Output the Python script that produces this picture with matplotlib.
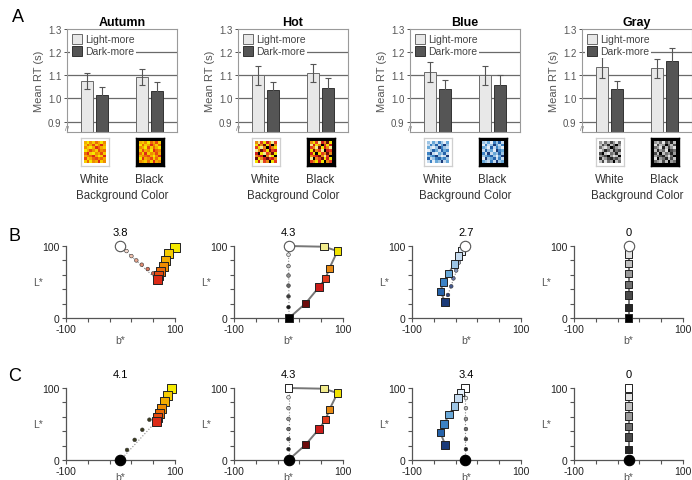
import numpy as np
import matplotlib.pyplot as plt
from matplotlib.patches import Patch
from matplotlib.colors import ListedColormap

plt.rcParams['font.family'] = ['Liberation Sans', 'DejaVu Sans']

W, H = 692, 481

# ---------------------------------------------------------------------------
# Panel A data: mean RT (s) and error bars
# ---------------------------------------------------------------------------
PALETTES = ['Autumn', 'Hot', 'Blue', 'Gray']
BACKGROUNDS = ['White', 'Black']
LIGHT_MORE = [[1.075, 1.092], [1.100, 1.110], [1.115, 1.100], [1.135, 1.130]]
LIGHT_ERR = [[0.035, 0.036], [0.040, 0.038], [0.042, 0.040], [0.045, 0.040]]
DARK_MORE = [[1.015, 1.032], [1.035, 1.045], [1.042, 1.060], [1.040, 1.160]]
DARK_ERR = [[0.035, 0.040], [0.036, 0.042], [0.038, 0.040], [0.036, 0.056]]

# colour palettes (square colours in B/C)
AUTUMN_COLORS = ['#f4ea00', '#f6cc00', '#f4ac00', '#f08c00', '#ec6a06', '#e64a10', '#dc2a16']
HOT_COLORS = ['#f2ec8c', '#f0e200', '#e88a12', '#e23c1e', '#cc1c1a', '#6c0c0c', '#000000']
BLUE_COLORS = ['#e4eef8', '#c6dbef', '#9cc4e4', '#68a8d8', '#3c82c4', '#2462aa', '#1a3a78']
GRAY_COLORS = ['#e2e2e2', '#c0c0c0', '#9a9a9a', '#707070', '#4a4a4a', '#262626', '#000000']

# thumbnail pattern (palette level per cell)
THUMB = [[2, 0, 3, 1, 4, 2, 0, 3],
         [1, 4, 2, 5, 1, 3, 6, 2],
         [3, 1, 0, 2, 6, 4, 2, 1],
         [0, 2, 5, 3, 1, 5, 3, 4],
         [4, 6, 1, 0, 3, 2, 5, 1],
         [2, 3, 4, 6, 2, 0, 1, 6],
         [5, 1, 2, 4, 5, 3, 4, 2],
         [1, 4, 0, 3, 2, 6, 1, 3]]

# ---------------------------------------------------------------------------
# Panel B (white background) and C (black background): b*, L* positions
# ---------------------------------------------------------------------------
B_TITLES = ['3.8', '4.3', '2.7', '0']
C_TITLES = ['4.1', '4.3', '3.4', '0']

# B row
B_AUT_SQ_B = [100, 88, 83, 79, 73, 70, 67]
B_AUT_SQ_L = [98, 89, 80, 72, 65, 59, 53]
B_AUT_DOT_B = [11, 20, 29, 39, 50, 60]
B_AUT_DOT_L = [93, 86, 80, 74, 68, 62]
B_AUT_DOT_C = ['#f6dcd0', '#f0c0ac', '#e8a48c', '#e08c72', '#d8725a', '#d06048']

B_HOT_SQ_B = [65, 90, 75, 68, 56, 31, 1]
B_HOT_SQ_L = [99, 93, 69, 55, 43, 20, 0]
B_HOT_DOT_B = [0, 0, 0, 0, 0, 0]
B_HOT_DOT_L = [88, 72, 59, 45, 30, 15]
B_HOT_DOT_C = ['#e0e0e0', '#b4b4b4', '#8c8c8c', '#646464', '#3c3c3c', '#1a1a1a']

B_BLU_SQ_B = [-9, -15, -22, -33, -42, -48, -39]
B_BLU_SQ_L = [93, 86, 75, 62, 50, 37, 22]
B_BLU_DOT_B = [-14, -19, -24, -28, -34]
B_BLU_DOT_L = [77, 66, 55, 44, 32]
B_BLU_DOT_C = ['#a8b4cc', '#8494b8', '#6474a4', '#465a90', '#30447c']

B_GRY_SQ_B = [0, 0, 0, 0, 0, 0, 0]
B_GRY_SQ_L = [89, 76, 62, 47, 32, 15, 0]

# C row
C_AUT_SQ_B = [93, 87, 81, 76, 72, 68, 66]
C_AUT_SQ_L = [99, 90, 81, 72, 65, 59, 54]
C_AUT_DOT_B = [12, 26, 40, 53]
C_AUT_DOT_L = [14, 28, 42, 56]
C_AUT_DOT_C = ['#3a3a1c'] * 4

C_HOT_SQ_B = [0, 65, 90, 75, 68, 56, 31]
C_HOT_SQ_L = [100, 99, 93, 70, 56, 43, 21]
C_HOT_DOT_B = [0, 0, 0, 0, 0, 0]
C_HOT_DOT_L = [87, 72, 57, 43, 29, 15]
C_HOT_DOT_C = ['#e6e6e6', '#bcbcbc', '#969696', '#6e6e6e', '#464646', '#1e1e1e']

C_BLU_SQ_B = [-3, -11, -16, -22, -32, -41, -48, -39]
C_BLU_SQ_L = [100, 94, 86, 75, 63, 50, 38, 21]
C_BLU_DOT_B = [-1, -1, -1, -1, -1, -1]
C_BLU_DOT_L = [86, 72, 57, 43, 29, 15]
C_BLU_DOT_C = ['#e6e6e6', '#bcbcbc', '#969696', '#6e6e6e', '#464646', '#1e1e1e']

C_GRY_SQ_B = [0, 0, 0, 0, 0, 0, 0]
C_GRY_SQ_L = [100, 88, 75, 61, 47, 32, 15]

# ---------------------------------------------------------------------------
fig = plt.figure(figsize=(W / 100, H / 100), dpi=100)
fig.patch.set_facecolor('white')


def px(x0, y0, w, h):
    """pixel box (left, top, width, height) -> figure fraction rect"""
    return [x0 / W, (H - y0 - h) / H, w / W, h / H]


BAR_LEFT = [67, 238, 410, 582]
SC_LEFT = [66, 234, 412, 574]
thumb_cmaps = [AUTUMN_COLORS, HOT_COLORS, BLUE_COLORS, GRAY_COLORS]
GROUP_X = [1, 3]

# ── Panel A ────────────────────────────────────────────────────────────────
for i, name in enumerate(PALETTES):
    ax = fig.add_axes(px(BAR_LEFT[i], 30, 110, 103))
    ax.set_xlim(0, 4)
    ax.set_ylim(0.855, 1.3)
    for y in [0.9, 1.0, 1.1, 1.2]:
        ax.axhline(y, color='#6a6a6a', lw=0.9, zorder=0)
    gx = np.array(GROUP_X)
    ax.bar(gx - 0.28, LIGHT_MORE[i], width=0.44, color='#e8e8e8',
           edgecolor='#6a6a6a', lw=0.7, zorder=2,
           yerr=LIGHT_ERR[i], error_kw=dict(ecolor='#555', lw=0.8, capsize=2, capthick=0.8))
    ax.bar(gx + 0.28, DARK_MORE[i], width=0.44, color='#555555',
           edgecolor='#333333', lw=0.7, zorder=2,
           yerr=DARK_ERR[i], error_kw=dict(ecolor='#555', lw=0.8, capsize=2, capthick=0.8))
    ax.set_yticks([0.9, 1.0, 1.1, 1.2, 1.3])
    ax.set_yticklabels(['0.9', '1.0', '1.1', '1.2', '1.3'])
    ax.tick_params(axis='y', labelsize=7, colors='#555', length=2.5, width=0.7, pad=1.5)
    ax.set_xticks([])
    for s in ax.spines.values():
        s.set_color('#9a9a9a')
        s.set_linewidth(0.8)
    ax.set_ylabel('Mean RT (s)', fontsize=8, color='#555', labelpad=3)
    ax.set_title(name, fontsize=9, fontweight='bold', pad=3)
    ax.text(0.0, 0.03, '//', transform=ax.transAxes, ha='center', va='center',
            fontsize=5, color='#777')
    leg = ax.legend(handles=[Patch(facecolor='#e8e8e8', edgecolor='#6a6a6a', lw=0.7),
                             Patch(facecolor='#555555', edgecolor='#333333', lw=0.7)],
                    labels=['Light-more', 'Dark-more'], loc='upper left',
                    fontsize=7.5, frameon=True, framealpha=1, edgecolor='none',
                    handlelength=1.0, handleheight=1.1, handletextpad=0.25,
                    borderpad=0.15, labelspacing=0.15, borderaxespad=0.3)
    for t in leg.get_texts():
        t.set_color('#444')

    # thumbnails under each group
    cmap = ListedColormap(thumb_cmaps[i])
    for j, bg in enumerate(BACKGROUNDS):
        cx = BAR_LEFT[i] + 110 * GROUP_X[j] / 4
        tax = fig.add_axes(px(cx - 14, 139, 28, 28))
        tax.imshow(THUMB if j == 0 else np.array(THUMB).T, cmap=cmap, vmin=-0.5, vmax=6.5,
                   extent=(0, 8, 0, 8), interpolation='nearest')
        pad = 1.1
        tax.set_xlim(-pad, 8 + pad)
        tax.set_ylim(-pad, 8 + pad)
        tax.set_xticks([])
        tax.set_yticks([])
        if bg == 'White':
            tax.set_facecolor('white')
            for s in tax.spines.values():
                s.set_color('#cfcfcf')
                s.set_linewidth(0.9)
        else:
            tax.set_facecolor('black')
            for s in tax.spines.values():
                s.set_color('black')
                s.set_linewidth(1)
        fig.text(cx / W, 1 - 180 / H, bg, ha='center', va='center', fontsize=8.3, color='#333')
    fig.text((BAR_LEFT[i] + 55) / W, 1 - 196 / H, 'Background Color', ha='center',
             va='center', fontsize=8.3, color='#333')

# ── Panels B and C ─────────────────────────────────────────────────────────
rows = [
    dict(top=247, titles=B_TITLES, circ_color='white', circ_L=100, circ_ms=7.5,
         sq=[(B_AUT_SQ_B, B_AUT_SQ_L, AUTUMN_COLORS, 6.5),
             (B_HOT_SQ_B, B_HOT_SQ_L, HOT_COLORS, 5.2),
             (B_BLU_SQ_B, B_BLU_SQ_L, BLUE_COLORS, 5.5),
             (B_GRY_SQ_B, B_GRY_SQ_L, GRAY_COLORS, 5.2)],
         dots=[(B_AUT_DOT_B, B_AUT_DOT_L, B_AUT_DOT_C),
               (B_HOT_DOT_B, B_HOT_DOT_L, B_HOT_DOT_C),
               (B_BLU_DOT_B, B_BLU_DOT_L, B_BLU_DOT_C),
               ([], [], [])]),
    dict(top=389, titles=C_TITLES, circ_color='black', circ_L=0, circ_ms=7.5,
         sq=[(C_AUT_SQ_B, C_AUT_SQ_L, AUTUMN_COLORS, 6.5),
             (C_HOT_SQ_B, C_HOT_SQ_L, ['white'] + HOT_COLORS[:6], 5.2),
             (C_BLU_SQ_B, C_BLU_SQ_L, ['white'] + BLUE_COLORS, 5.5),
             (C_GRY_SQ_B, C_GRY_SQ_L, ['white'] + GRAY_COLORS[:6], 5.2)],
         dots=[(C_AUT_DOT_B, C_AUT_DOT_L, C_AUT_DOT_C),
               (C_HOT_DOT_B, C_HOT_DOT_L, C_HOT_DOT_C),
               (C_BLU_DOT_B, C_BLU_DOT_L, C_BLU_DOT_C),
               ([], [], [])]),
]

for r, row in enumerate(rows):
    for i in range(4):
        ax = fig.add_axes(px(SC_LEFT[i], row['top'], 109, 72))
        ax.set_xlim(-100, 100)
        ax.set_ylim(0, 100)
        ax.set_facecolor('none')
        for s in ['top', 'right']:
            ax.spines[s].set_visible(False)
        for s in ['left', 'bottom']:
            ax.spines[s].set_color('#555')
            ax.spines[s].set_linewidth(0.9)
        ax.set_xticks([-100, -60, -20, 20, 60, 100])
        ax.set_xticklabels(['-100', '', '', '', '', '100'])
        ax.set_yticks([0, 20, 40, 60, 80, 100])
        ax.set_yticklabels(['0', '', '', '', '', '100'])
        ax.tick_params(labelsize=7.5, colors='#555', labelcolor='#222', length=3,
                       width=0.8, pad=1.5)
        ax.set_xlabel('b*', fontsize=7.5, color='#555')
        ax.xaxis.set_label_coords(0.5, -0.24 if r == 0 else -0.16)
        ax.set_ylabel('L*', fontsize=7.5, color='#555', rotation=0, labelpad=3, va='center')
        ax.set_title(row['titles'][i], fontsize=8, pad=8)

        sb, sl, sc, ms = row['sq'][i]
        db, dl, dc = row['dots'][i]
        cb = 0 if i != 2 else -2
        # dotted guide from background colour to the extreme colour
        if len(db):
            end = (sb[-1], sl[-1]) if r == 0 or i == 0 else (cb, 100)
            ax.plot([cb, end[0]], [row['circ_L'], end[1]], ls=':', color='#888',
                    lw=0.8, zorder=1, clip_on=False)
            ax.scatter(db, dl, s=7, c=dc, edgecolors='#333', linewidths=0.4,
                       zorder=2, clip_on=False)
        # solid path through squares (hot path also reaches the background)
        pb = list(sb)
        pl = list(sl)
        if i == 1:
            if r == 0:
                pb = [cb] + pb
                pl = [100] + pl
            else:
                pb = pb + [cb]
                pl = pl + [0]
        ax.plot(pb, pl, color='#777', lw=1.4, zorder=2, clip_on=False)
        ax.scatter(sb, sl, marker='s', s=ms ** 2, c=sc, edgecolors='#222',
                   linewidths=0.7, zorder=3, clip_on=False)
        ax.plot([cb], [row['circ_L']], 'o', ms=row['circ_ms'], mfc=row['circ_color'],
                mec='#555' if row['circ_color'] == 'white' else 'black', mew=0.8,
                zorder=4, clip_on=False)

fig.text(18 / W, 1 - 18 / H, 'A', fontsize=13, ha='center', va='center')
fig.text(15 / W, 1 - 237 / H, 'B', fontsize=13, ha='center', va='center')
fig.text(15 / W, 1 - 377 / H, 'C', fontsize=13, ha='center', va='center')

fig.savefig('out.png', dpi=100)
